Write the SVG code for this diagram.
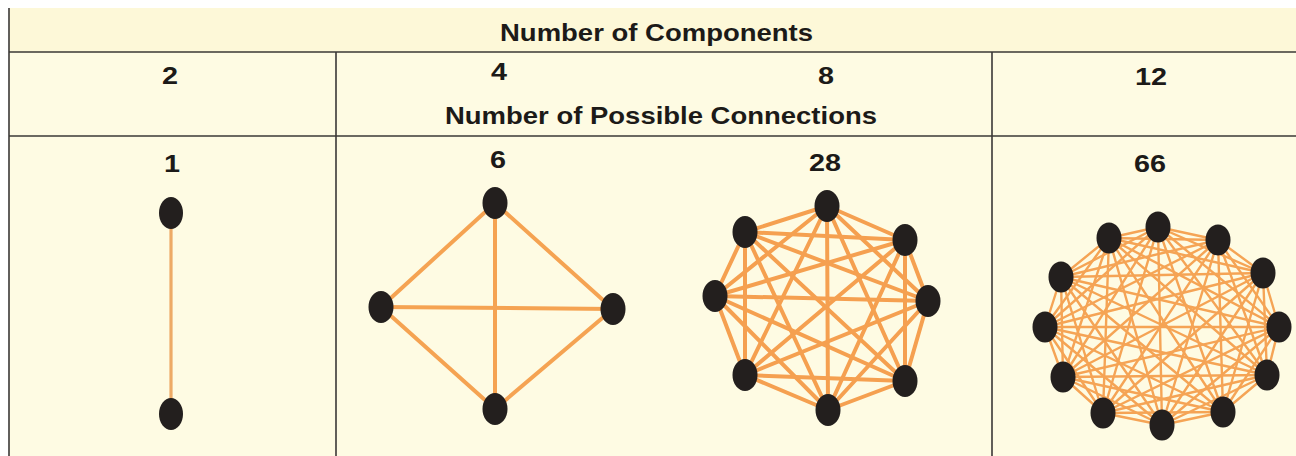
<svg xmlns="http://www.w3.org/2000/svg" width="1296" height="456" viewBox="0 0 1296 456">
<style>
.rule{stroke:#3a3836;stroke-width:1.6;fill:none}
.lbl{font-family:"Liberation Sans",Arial,sans-serif;font-weight:bold;font-size:24px;fill:#1c1a18}
.e4{stroke:#F5A352;stroke-width:4;stroke-linecap:round}
.e8{stroke:#F5A050;stroke-width:4;stroke-linecap:round}
.e12{stroke:#F5A455;stroke-width:2.4;stroke-linecap:round}
.e2{stroke:#EDAA66;stroke-width:3.2}
.n{fill:#231F1E}
</style>
<rect x="0" y="0" width="1296" height="456" fill="#FFFFFF"/>
<rect x="9" y="8" width="1287" height="448" fill="#FEFBE3"/>
<rect x="9" y="8" width="1287" height="44" fill="#FDF8D8"/>
<g id="table">
<line class="rule" x1="9" y1="8" x2="9" y2="456"/>
<line class="rule" x1="9" y1="52" x2="1296" y2="52"/>
<line class="rule" x1="9" y1="136" x2="1296" y2="136"/>
<line class="rule" x1="336" y1="52" x2="336" y2="456"/>
<line class="rule" x1="992" y1="52" x2="992" y2="456"/>
</g>
<g id="labels">
<text class="lbl" x="500" y="41" textLength="313" lengthAdjust="spacingAndGlyphs">Number of Components</text>
<text class="lbl" x="445" y="124" textLength="432" lengthAdjust="spacingAndGlyphs">Number of Possible Connections</text>
<text class="lbl" text-anchor="middle" transform="translate(170 84) scale(1.2 1)">2</text>
<text class="lbl" text-anchor="middle" transform="translate(499 80) scale(1.2 1)">4</text>
<text class="lbl" text-anchor="middle" transform="translate(826 84) scale(1.2 1)">8</text>
<text class="lbl" text-anchor="middle" transform="translate(1151 85) scale(1.2 1)">12</text>
<text class="lbl" text-anchor="middle" transform="translate(172 172) scale(1.2 1)">1</text>
<text class="lbl" text-anchor="middle" transform="translate(498 168) scale(1.2 1)">6</text>
<text class="lbl" text-anchor="middle" transform="translate(825 171) scale(1.2 1)">28</text>
<text class="lbl" text-anchor="middle" transform="translate(1150 172) scale(1.2 1)">66</text>
</g>
<g id="connectors">
<line class="e2" x1="171" y1="213" x2="171" y2="414"/>
<line class="e4" x1="495" y1="203" x2="381" y2="307"/>
<line class="e4" x1="495" y1="203" x2="613" y2="309"/>
<line class="e4" x1="495" y1="203" x2="495" y2="409"/>
<line class="e4" x1="381" y1="307" x2="613" y2="309"/>
<line class="e4" x1="381" y1="307" x2="495" y2="409"/>
<line class="e4" x1="613" y1="309" x2="495" y2="409"/>
<line class="e8" x1="827" y1="206" x2="745" y2="232"/>
<line class="e8" x1="827" y1="206" x2="905" y2="240"/>
<line class="e8" x1="827" y1="206" x2="715" y2="296"/>
<line class="e8" x1="827" y1="206" x2="928" y2="301"/>
<line class="e8" x1="827" y1="206" x2="745" y2="375"/>
<line class="e8" x1="827" y1="206" x2="905" y2="381"/>
<line class="e8" x1="827" y1="206" x2="828" y2="410"/>
<line class="e8" x1="745" y1="232" x2="905" y2="240"/>
<line class="e8" x1="745" y1="232" x2="715" y2="296"/>
<line class="e8" x1="745" y1="232" x2="928" y2="301"/>
<line class="e8" x1="745" y1="232" x2="745" y2="375"/>
<line class="e8" x1="745" y1="232" x2="905" y2="381"/>
<line class="e8" x1="745" y1="232" x2="828" y2="410"/>
<line class="e8" x1="905" y1="240" x2="715" y2="296"/>
<line class="e8" x1="905" y1="240" x2="928" y2="301"/>
<line class="e8" x1="905" y1="240" x2="745" y2="375"/>
<line class="e8" x1="905" y1="240" x2="905" y2="381"/>
<line class="e8" x1="905" y1="240" x2="828" y2="410"/>
<line class="e8" x1="715" y1="296" x2="928" y2="301"/>
<line class="e8" x1="715" y1="296" x2="745" y2="375"/>
<line class="e8" x1="715" y1="296" x2="905" y2="381"/>
<line class="e8" x1="715" y1="296" x2="828" y2="410"/>
<line class="e8" x1="928" y1="301" x2="745" y2="375"/>
<line class="e8" x1="928" y1="301" x2="905" y2="381"/>
<line class="e8" x1="928" y1="301" x2="828" y2="410"/>
<line class="e8" x1="745" y1="375" x2="905" y2="381"/>
<line class="e8" x1="745" y1="375" x2="828" y2="410"/>
<line class="e8" x1="905" y1="381" x2="828" y2="410"/>
<line class="e12" x1="1158" y1="227" x2="1109" y2="238"/>
<line class="e12" x1="1158" y1="227" x2="1218" y2="240"/>
<line class="e12" x1="1158" y1="227" x2="1061" y2="277"/>
<line class="e12" x1="1158" y1="227" x2="1263" y2="273"/>
<line class="e12" x1="1158" y1="227" x2="1045" y2="327"/>
<line class="e12" x1="1158" y1="227" x2="1279" y2="327"/>
<line class="e12" x1="1158" y1="227" x2="1063" y2="377"/>
<line class="e12" x1="1158" y1="227" x2="1267" y2="375"/>
<line class="e12" x1="1158" y1="227" x2="1103" y2="413"/>
<line class="e12" x1="1158" y1="227" x2="1223" y2="412"/>
<line class="e12" x1="1158" y1="227" x2="1162" y2="425"/>
<line class="e12" x1="1109" y1="238" x2="1218" y2="240"/>
<line class="e12" x1="1109" y1="238" x2="1061" y2="277"/>
<line class="e12" x1="1109" y1="238" x2="1263" y2="273"/>
<line class="e12" x1="1109" y1="238" x2="1045" y2="327"/>
<line class="e12" x1="1109" y1="238" x2="1279" y2="327"/>
<line class="e12" x1="1109" y1="238" x2="1063" y2="377"/>
<line class="e12" x1="1109" y1="238" x2="1267" y2="375"/>
<line class="e12" x1="1109" y1="238" x2="1103" y2="413"/>
<line class="e12" x1="1109" y1="238" x2="1223" y2="412"/>
<line class="e12" x1="1109" y1="238" x2="1162" y2="425"/>
<line class="e12" x1="1218" y1="240" x2="1061" y2="277"/>
<line class="e12" x1="1218" y1="240" x2="1263" y2="273"/>
<line class="e12" x1="1218" y1="240" x2="1045" y2="327"/>
<line class="e12" x1="1218" y1="240" x2="1279" y2="327"/>
<line class="e12" x1="1218" y1="240" x2="1063" y2="377"/>
<line class="e12" x1="1218" y1="240" x2="1267" y2="375"/>
<line class="e12" x1="1218" y1="240" x2="1103" y2="413"/>
<line class="e12" x1="1218" y1="240" x2="1223" y2="412"/>
<line class="e12" x1="1218" y1="240" x2="1162" y2="425"/>
<line class="e12" x1="1061" y1="277" x2="1263" y2="273"/>
<line class="e12" x1="1061" y1="277" x2="1045" y2="327"/>
<line class="e12" x1="1061" y1="277" x2="1279" y2="327"/>
<line class="e12" x1="1061" y1="277" x2="1063" y2="377"/>
<line class="e12" x1="1061" y1="277" x2="1267" y2="375"/>
<line class="e12" x1="1061" y1="277" x2="1103" y2="413"/>
<line class="e12" x1="1061" y1="277" x2="1223" y2="412"/>
<line class="e12" x1="1061" y1="277" x2="1162" y2="425"/>
<line class="e12" x1="1263" y1="273" x2="1045" y2="327"/>
<line class="e12" x1="1263" y1="273" x2="1279" y2="327"/>
<line class="e12" x1="1263" y1="273" x2="1063" y2="377"/>
<line class="e12" x1="1263" y1="273" x2="1267" y2="375"/>
<line class="e12" x1="1263" y1="273" x2="1103" y2="413"/>
<line class="e12" x1="1263" y1="273" x2="1223" y2="412"/>
<line class="e12" x1="1263" y1="273" x2="1162" y2="425"/>
<line class="e12" x1="1045" y1="327" x2="1279" y2="327"/>
<line class="e12" x1="1045" y1="327" x2="1063" y2="377"/>
<line class="e12" x1="1045" y1="327" x2="1267" y2="375"/>
<line class="e12" x1="1045" y1="327" x2="1103" y2="413"/>
<line class="e12" x1="1045" y1="327" x2="1223" y2="412"/>
<line class="e12" x1="1045" y1="327" x2="1162" y2="425"/>
<line class="e12" x1="1279" y1="327" x2="1063" y2="377"/>
<line class="e12" x1="1279" y1="327" x2="1267" y2="375"/>
<line class="e12" x1="1279" y1="327" x2="1103" y2="413"/>
<line class="e12" x1="1279" y1="327" x2="1223" y2="412"/>
<line class="e12" x1="1279" y1="327" x2="1162" y2="425"/>
<line class="e12" x1="1063" y1="377" x2="1267" y2="375"/>
<line class="e12" x1="1063" y1="377" x2="1103" y2="413"/>
<line class="e12" x1="1063" y1="377" x2="1223" y2="412"/>
<line class="e12" x1="1063" y1="377" x2="1162" y2="425"/>
<line class="e12" x1="1267" y1="375" x2="1103" y2="413"/>
<line class="e12" x1="1267" y1="375" x2="1223" y2="412"/>
<line class="e12" x1="1267" y1="375" x2="1162" y2="425"/>
<line class="e12" x1="1103" y1="413" x2="1223" y2="412"/>
<line class="e12" x1="1103" y1="413" x2="1162" y2="425"/>
<line class="e12" x1="1223" y1="412" x2="1162" y2="425"/>
</g>
<g id="g2-n1"><ellipse class="n" cx="171" cy="213" rx="12" ry="16"/></g>
<g id="g2-n2"><ellipse class="n" cx="171" cy="414" rx="12" ry="16"/></g>
<g id="g4-n1"><ellipse class="n" cx="495" cy="203" rx="12.5" ry="16"/></g>
<g id="g4-n2"><ellipse class="n" cx="381" cy="307" rx="12.5" ry="16"/></g>
<g id="g4-n3"><ellipse class="n" cx="613" cy="309" rx="12.5" ry="16"/></g>
<g id="g4-n4"><ellipse class="n" cx="495" cy="409" rx="12.5" ry="16"/></g>
<g id="g8-n1"><ellipse class="n" cx="827" cy="206" rx="12.5" ry="16"/></g>
<g id="g8-n2"><ellipse class="n" cx="745" cy="232" rx="12.5" ry="16"/></g>
<g id="g8-n3"><ellipse class="n" cx="905" cy="240" rx="12.5" ry="16"/></g>
<g id="g8-n4"><ellipse class="n" cx="715" cy="296" rx="12.5" ry="16"/></g>
<g id="g8-n5"><ellipse class="n" cx="928" cy="301" rx="12.5" ry="16"/></g>
<g id="g8-n6"><ellipse class="n" cx="745" cy="375" rx="12.5" ry="16"/></g>
<g id="g8-n7"><ellipse class="n" cx="905" cy="381" rx="12.5" ry="16"/></g>
<g id="g8-n8"><ellipse class="n" cx="828" cy="410" rx="12.5" ry="16"/></g>
<g id="g12-n1"><ellipse class="n" cx="1158" cy="227" rx="12.5" ry="15.5"/></g>
<g id="g12-n2"><ellipse class="n" cx="1109" cy="238" rx="12.5" ry="15.5"/></g>
<g id="g12-n3"><ellipse class="n" cx="1218" cy="240" rx="12.5" ry="15.5"/></g>
<g id="g12-n4"><ellipse class="n" cx="1061" cy="277" rx="12.5" ry="15.5"/></g>
<g id="g12-n5"><ellipse class="n" cx="1263" cy="273" rx="12.5" ry="15.5"/></g>
<g id="g12-n6"><ellipse class="n" cx="1045" cy="327" rx="12.5" ry="15.5"/></g>
<g id="g12-n7"><ellipse class="n" cx="1279" cy="327" rx="12.5" ry="15.5"/></g>
<g id="g12-n8"><ellipse class="n" cx="1063" cy="377" rx="12.5" ry="15.5"/></g>
<g id="g12-n9"><ellipse class="n" cx="1267" cy="375" rx="12.5" ry="15.5"/></g>
<g id="g12-n10"><ellipse class="n" cx="1103" cy="413" rx="12.5" ry="15.5"/></g>
<g id="g12-n11"><ellipse class="n" cx="1223" cy="412" rx="12.5" ry="15.5"/></g>
<g id="g12-n12"><ellipse class="n" cx="1162" cy="425" rx="12.5" ry="15.5"/></g>
</svg>
